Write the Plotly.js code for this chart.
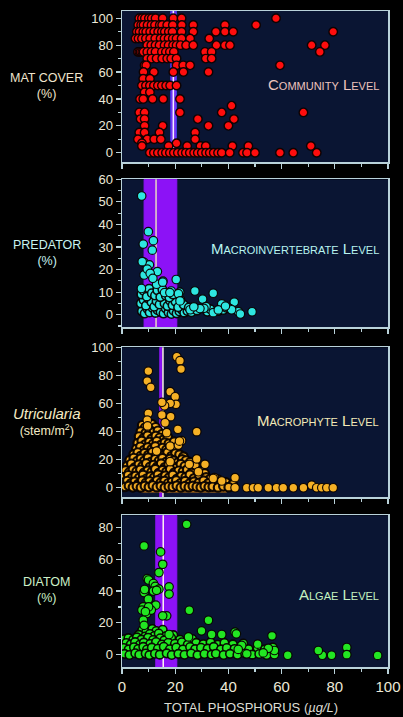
<!DOCTYPE html>
<html>
<head>
<meta charset="utf-8">
<script src="https://cdn.plot.ly/plotly-3.0.1.min.js"></script>
<style>html,body{margin:0;padding:0;background:#000;}#chart{width:403px;height:717px;}</style>
</head>
<body>
<div id="chart"></div>
<script>
// ---------- DATA ----------
const xTickVals = [0, 20, 40, 60, 80, 100];

// Panel 1: mat cover (%) rows -> total phosphorus values in each row
const matLevels = [100, 95, 90, 85, 80, 75, 70, 65, 60, 55, 50, 45, 40, 35, 30, 25, 20, 15, 10, 7, 5, 0];
const matRowX = [
  [6.5, 7.5, 8.6, 10.1, 11.2, 12.6, 15.3, 19.3, 22.4, 57.9],
  [6.1, 7.2, 8.1, 9.6, 11.1, 12.4, 14.2, 15.1, 17.0, 19.1, 22.5, 26.8, 38.7, 50.4],
  [5.6, 6.6, 8.0, 9.1, 10.6, 12.1, 13.6, 15.0, 16.1, 17.6, 19.0, 22.4, 26.8, 35.3, 38.7, 41.8, 79.4],
  [5.1, 6.2, 7.5, 9.0, 10.6, 12.5, 14.5, 16.0, 17.5, 19.1, 20.5, 22.4, 25.6, 32.8],
  [9.5, 11.0, 12.6, 14.1, 16.0, 17.5, 19.2, 20.5, 22.0, 24.1, 26.8, 35.5, 38.7, 40.6, 71.3, 76.3],
  [6.0, 6.5, 7.0, 7.6, 8.1, 9.5, 11.1, 12.6, 15.0, 16.5, 18.0, 19.5, 31.2, 33.7, 74.4],
  [9.5, 11.1, 13.0, 15.1, 17.0, 18.5, 20.5, 31.5, 33.7],
  [8.5, 9.1, 20.5, 23.0, 25.6, 59.4],
  [8.1, 12.0, 19.3, 23.1, 32.5],
  [8.0, 10.5],
  [7.5, 9.0, 10.5, 12.0, 13.5, 15.0, 16.6, 18.1, 20.5],
  [8.5, 10.5],
  [6.8, 8.0, 11.5, 15.5, 21.8],
  [41.2],
  [6.5, 8.5, 21.8, 37.5, 68.2],
  [7.0, 8.5, 28.5, 42.1],
  [8.5, 15.3, 32.5, 40.0],
  [6.5, 8.5, 14.1, 27.5],
  [6.0, 9.5, 12.1, 14.6, 27.5],
  [7.5, 20.5],
  [7.5, 17.5, 24.5, 29.5, 31.5, 41.5, 47.5, 71.0],
  [10.5, 12.0, 13.5, 15.1, 16.5, 18.0, 19.5, 21.0, 22.6, 24.0, 25.5, 27.1, 28.5, 30.0, 31.6, 33.0, 34.5, 36.1, 37.5, 40.5, 45.5, 47.0, 50.0, 59.4, 64.4, 73.2]
];

// Panel 2: predator (%)
const predOutX = [7.4, 9.9, 11.8, 8.0, 11.4, 8.3, 10.3, 7.6, 13.3, 8.3, 15.4, 20.4, 13.0, 27.4, 34.3, 16.0, 21.7, 18.5, 22.0, 30.3, 7.3, 31.6, 37.5, 42.2, 40.6, 43.7, 48.9, 44.5, 41.2, 34.3, 30.8, 25.6, 29.3, 27.0, 9.5, 10.6, 11.6, 21.2, 21.8, 18.0, 15.3, 36.2, 38.9];
const predOutY = [52.6, 36.8, 32.8, 31.3, 28.6, 23.2, 22.1, 23.5, 19.1, 17.6, 14.9, 15.6, 13.5, 10.5, 9.5, 9.8, 10.0, 10.5, 6.5, 6.9, 11.6, 3.6, 4.8, 5.6, 2.7, 1.4, 1.3, 0.3, 2.2, 0.9, 2.8, 2.2, 2.7, 3.5, 20.2, 18.3, 16.1, 9.3, 6.1, 9.8, 14.4, 2.1, 3.8];
const predClusX = [7.5, 8.5, 9.6, 10.4, 11.5, 12.6, 13.4, 14.5, 15.6, 16.4, 17.5, 18.6, 19.4, 20.5, 21.6, 22.5, 23.4, 24.6, 26.1, 28.2, 32.1, 33.2, 36.3, 38.1, 39.2,
  7.1, 8.1, 9.0, 10.1, 11.1, 12.1, 13.0, 14.1, 15.1, 16.0, 17.1, 18.1, 19.0, 20.1, 21.1, 23.2, 25.1,
  7.3, 8.2, 9.3, 10.2, 11.2, 12.4, 13.3, 14.4, 15.2, 16.5, 17.8, 19.2];
const predClusY = [1.5, 0.5, 2.5, 1.0, 3.0, 0.8, 2.0, 1.2, 0.5, 2.8, 1.0, 0.3, 1.8, 0.6, 1.4, 2.2, 0.9, 1.6, 1.1, 1.9, 1.3, 2.4, 1.7, 2.1, 3.1,
  5.0, 6.5, 4.0, 7.0, 5.5, 3.5, 6.0, 4.5, 7.5, 5.0, 3.8, 6.2, 4.2, 5.8, 3.3, 4.4, 3.2,
  9.0, 10.5, 8.0, 11.5, 9.5, 8.5, 10.8, 7.8, 11.2, 8.4, 7.6, 8.9];

// Panel 3: Utricularia (stem/m2)
const utrOutX = [20.6, 21.8, 22.2, 9.9, 9.5, 10.8, 18.1, 20.0, 20.3, 18.1, 16.0, 15.0, 18.3, 15.0, 9.9, 9.5, 16.2, 9.6, 16.8, 21.0, 28.1, 22.4, 18.1, 21.2, 13.0, 28.1, 31.2, 25.3, 18.1, 28.7, 34.7, 37.5, 42.5, 42.5, 46.9, 49.4, 51.2, 55.0, 58.1, 60.6, 64.4, 68.2, 71.3, 73.2, 75.1, 77.0, 79.4, 34.3, 21.6];
const utrOutY = [93.3, 90.5, 84.5, 83.1, 76.0, 71.5, 68.4, 64.8, 59.4, 60.1, 58.4, 60.8, 50.6, 51.8, 53.0, 48.2, 46.3, 44.0, 39.2, 41.6, 39.9, 33.5, 29.7, 30.4, 26.1, 20.5, 16.7, 16.7, 18.6, 11.4, 7.2, 4.8, 7.2, 0.0, 0.0, 0.0, 0.0, 0.0, 0.0, 0.0, 0.0, 0.0, 1.8, 0.0, 0.0, 0.0, 0.0, 6.6, 33.2];
const utrClusX = [7.6, 8.7, 11.2, 12.6,
  7.1, 8.9, 10.4, 11.9, 13.5, 15.1,
  6.4, 8.1, 9.6, 11.1, 12.7, 14.2, 15.6, 17.2,
  5.9, 7.4, 8.8, 10.3, 11.7, 13.1, 14.6, 16.1, 17.6, 19.6,
  5.4, 6.9, 8.3, 9.7, 11.1, 12.5, 13.9, 15.3, 16.7, 18.1, 19.9,
  4.4, 5.9, 7.1, 8.5, 9.9, 11.4, 12.8, 14.2, 15.7, 17.1, 18.6, 20.1, 21.6, 23.1,
  2.9, 4.4, 5.7, 7.1, 8.4, 9.8, 11.1, 12.5, 13.9, 15.2, 16.6, 18.1, 19.5, 21.1, 22.6, 24.1, 25.6,
  1.9, 3.5, 4.9, 6.3, 7.7, 9.1, 10.5, 11.9, 13.3, 14.7, 16.1, 17.5, 18.9, 20.5, 22.1, 23.6, 26.1, 27.6,
  1.3, 2.7, 4.1, 5.5, 6.9, 8.3, 9.7, 11.1, 12.5, 13.9, 15.3, 16.7, 18.1, 19.7, 21.3, 22.9, 24.5, 26.1, 29.6, 31.1,
  0.8, 2.3, 3.7, 5.1, 6.5, 7.9, 9.3, 10.7, 12.1, 13.5, 14.9, 16.3, 17.7, 19.1, 20.7, 22.3, 23.9, 25.5, 27.1, 29.1, 31.6, 33.1, 36.1,
  0.6, 2.0, 3.4, 4.8, 6.2, 7.6, 9.0, 10.4, 11.8, 13.2, 14.6, 16.0, 17.4, 18.8, 20.4, 22.1, 23.7, 25.3, 27.1, 28.9, 30.7, 32.5, 34.6, 36.9, 39.1, 41.6,
  1.1, 2.6, 4.1, 5.6, 7.1, 8.6, 10.1, 11.6, 13.1, 14.6, 16.1, 17.6, 19.1, 20.6, 22.1, 23.6, 25.1, 26.6, 28.1, 29.6, 31.1, 32.6, 34.1, 36.1, 38.1, 40.1];
const utrClusY = [44.5, 42.8, 45.3, 43.1,
  40.2, 38.9, 41.1, 39.4, 40.6, 38.2,
  36.5, 35.2, 37.1, 34.8, 36.9, 35.6, 34.3, 36.1,
  31.8, 33.4, 30.9, 32.6, 31.2, 33.1, 30.5, 32.2, 31.4, 32.9,
  27.6, 29.2, 26.8, 28.7, 27.3, 29.5, 26.4, 28.3, 27.1, 28.9, 26.6,
  23.8, 25.1, 22.7, 24.6, 23.3, 25.4, 22.9, 24.2, 23.1, 25.2, 22.5, 24.4, 23.6, 22.2,
  19.6, 21.2, 18.9, 20.7, 19.2, 21.4, 18.6, 20.3, 19.1, 21.1, 18.4, 20.6, 19.3, 18.1, 20.2, 19.4, 18.2,
  15.4, 17.1, 14.6, 16.5, 15.2, 17.3, 14.8, 16.2, 15.1, 17.2, 14.5, 16.4, 15.6, 14.2, 16.8, 15.3, 14.1, 15.9,
  12.4, 10.9, 13.1, 11.6, 12.8, 10.7, 12.2, 11.1, 13.3, 10.6, 12.6, 11.3, 13.2, 10.8, 12.1, 11.4, 12.9, 10.5, 11.8, 10.2,
  7.6, 8.9, 6.8, 8.4, 7.1, 9.2, 6.6, 8.1, 7.3, 9.4, 6.9, 8.6, 7.2, 9.1, 6.4, 8.3, 7.5, 9.3, 6.7, 8.2, 7.4, 6.2, 5.8,
  3.6, 4.8, 3.1, 4.4, 2.8, 5.1, 3.4, 4.6, 2.9, 5.3, 3.7, 4.9, 3.2, 4.1, 5.2, 3.3, 4.7, 2.9, 4.3, 3.5, 5.1, 3.1, 4.4, 2.7, 3.8, 2.4,
  0.6, 1.4, 0.3, 1.1, 0.2, 1.3, 0.5, 1.6, 0.4, 1.2, 0.1, 0.9, 0.6, 1.5, 0.2, 1.1, 0.4, 1.3, 0.7, 0.3, 1.2, 0.5, 0.8, 0.2, 1.0, 0.4];
const utrBaseX = [7.3, 39.4];
const utrBaseY = [-2.8, -2.8];

// Panel 4: diatom (%)
const diaOutX = [24.3, 8.3, 14.5, 15.3, 13.9, 9.5, 10.0, 11.8, 12.5, 13.9, 17.7, 17.7, 8.3, 8.5, 9.9, 12.7, 25.3, 16.8, 15.3, 32.5, 8.0, 7.5, 9.3, 8.0, 8.3, 29.9, 33.7, 37.5, 42.5, 43.0, 17.7, 25.0, 56.4, 51.0, 45.0, 96.1, 84.5, 84.5, 78.8, 75.3, 73.8, 62.3, 57.3, 57.3, 55.0, 53.1, 46.9, 43.7, 11.0, 10.0, 8.8, 11.8, 13.0];
const diaOutY = [82.1, 68.5, 64.7, 56.9, 51.7, 47.9, 47.0, 44.8, 43.0, 41.2, 42.7, 38.1, 39.1, 41.0, 34.9, 31.1, 27.9, 24.4, 24.4, 21.6, 30.0, 28.0, 25.8, 21.6, 18.4, 14.9, 12.6, 12.6, 14.1, 13.0, 12.6, 11.1, 11.8, 6.5, 5.7, -0.6, 4.4, -0.1, -0.5, -0.5, 2.5, -0.5, 0.0, 2.5, 3.9, 1.0, 0.4, 3.2, 28.0, 30.0, 27.0, 40.0, 40.5];
const diaClusX = [7.6, 9.1, 11.4, 12.9, 15.3,
  6.3, 8.7, 10.5, 12.2, 13.8, 16.6, 19.3,
  0.8, 2.4, 4.2, 5.6, 7.3, 9.8, 11.7, 14.4, 15.9, 18.5, 21.8, 26.4,
  1.6, 3.3, 4.9, 6.7, 8.2, 10.6, 12.8, 15.0, 17.4, 19.9, 22.5, 24.7, 27.9, 30.6, 33.3, 36.0, 38.5, 41.7, 45.6,
  0.6, 2.5, 4.5, 6.1, 8.0, 9.4, 11.2, 13.5, 15.7, 18.0, 20.4, 22.9, 25.6, 27.5, 29.7, 32.2, 34.5, 37.2, 39.4, 42.3, 44.8, 47.6, 50.9, 53.7, 56.7,
  0.9, 2.8, 5.0, 6.5, 8.9, 10.3, 12.4, 14.2, 16.8, 18.7, 21.2, 23.5, 26.0, 28.4, 31.0, 33.7, 35.3, 38.2, 40.6, 43.4, 46.3, 49.0, 51.6, 54.4];
const diaClusY = [15.3, 14.2, 16.1, 14.8, 15.6,
  12.4, 11.3, 12.9, 11.7, 13.2, 11.6, 12.2,
  9.6, 10.3, 9.2, 10.8, 9.4, 10.6, 9.1, 10.2, 8.9, 10.4, 9.3, 9.8,
  7.2, 6.4, 7.8, 6.1, 7.5, 6.6, 7.9, 6.3, 7.4, 6.8, 7.7, 6.2, 7.3, 6.5, 7.6, 6.1, 7.2, 6.4, 6.9,
  4.1, 3.2, 4.6, 3.5, 4.8, 3.1, 4.3, 3.6, 4.9, 3.3, 4.4, 3.1, 4.7, 3.4, 4.2, 3.7, 4.8, 3.2, 4.1, 3.5, 4.6, 3.3, 4.2, 3.1, 4.4,
  0.4, -0.3, 0.8, -0.2, 0.6, -0.4, 0.5, -0.1, 0.7, -0.3, 0.4, -0.2, 0.6, -0.4, 0.3, -0.1, 0.5, -0.3, 0.4, -0.2, 0.6, -0.1, 0.3, -0.3];

// Reference bands (total phosphorus) per panel
const bandLow = [18.3, 8.3, 14.2, 12.7];
const bandHigh = [20.5, 20.6, 15.0, 20.6];
const refLine = [19.3, 12.8, 15.4, 15.5];

// ---------- BUILD ----------
const matX = [], matY = [];
matRowX.forEach((row, i) => row.forEach(v => { matX.push(v); matY.push(matLevels[i]); }));

const FONT = 'Liberation Sans, Arial, Helvetica, sans-serif';
function pts(x, y, xa, ya, col, lw) {
  return {type: 'scatter', mode: 'markers', x: x, y: y, xaxis: xa, yaxis: ya,
    marker: {size: 8.5, color: col, line: {color: 'rgba(8,2,0,0.95)', width: lw}}, hoverinfo: 'skip'};
}
const data = [
  pts(matX, matY, 'x', 'y', '#ff0d0d', 1.4),
  pts(predClusX, predClusY, 'x2', 'y2', '#2ee6e0', 1.6),
  pts(predOutX, predOutY, 'x2', 'y2', '#2ee6e0', 1.2),
  {type: 'scatter', mode: 'lines', x: utrBaseX, y: utrBaseY, xaxis: 'x3', yaxis: 'y3',
    line: {color: '#c87810', width: 1.5}, hoverinfo: 'skip'},
  pts(utrClusX, utrClusY, 'x3', 'y3', '#f2aa22', 2.2),
  pts(utrOutX, utrOutY, 'x3', 'y3', '#f5b025', 1.2),
  pts(diaClusX, diaClusY, 'x4', 'y4', '#22e622', 1.6),
  pts(diaOutX, diaOutY, 'x4', 'y4', '#22e622', 1.2)
];

const LINE = '#b9d2da';
const TICKFONT = {family: FONT, size: 13, color: '#ece8d8'};
function xax(anchor, labels) {
  return {range: [0, 100], anchor: anchor, showline: true, mirror: true, linecolor: LINE, linewidth: 1.5,
    ticks: 'outside', ticklen: 5, tickwidth: 1.2, tickcolor: LINE, tickvals: xTickVals,
    showticklabels: labels, tickfont: {family: FONT, size: 15, color: '#ece8d8'},
    minor: {dtick: 10, tick0: 0, ticks: 'outside', ticklen: 3, tickcolor: LINE, tickwidth: 1.2, showgrid: false},
    showgrid: false, zeroline: false, fixedrange: true};
}
function yax(domain, range, dtick, minor, anchor) {
  return {domain: domain, range: range, anchor: anchor, showline: true, mirror: true, linecolor: LINE, linewidth: 1.5,
    ticks: 'outside', ticklen: 5, tickwidth: 1.2, tickcolor: LINE, dtick: dtick, tick0: 0,
    tickfont: TICKFONT, minor: {dtick: minor, tick0: 0, ticks: 'outside', ticklen: 2.5, tickcolor: LINE, tickwidth: 1.2, showgrid: false},
    showgrid: false, zeroline: false, fixedrange: true};
}

const shapes = [];
const xrefs = ['x', 'x2', 'x3', 'x4'];
const bandFill = ['#7434f2', '#8c12f6', '#8c12f6', '#8c12f6'];
const bandEdge = ['#3a3ae6', '#8c12f6', '#8c12f6', '#8c12f6'];
const lineCol = ['#f4f0ff', '#e8d8c4', '#fff4f0', '#fff4ee'];
for (let i = 0; i < 4; i++) {
  const yr = (i === 0 ? 'y' : 'y' + (i + 1));
  const full = i !== 0;
  shapes.push({type: 'rect', layer: 'below', xref: xrefs[i], yref: full ? yr + ' domain' : yr,
    x0: bandLow[i], x1: bandHigh[i], y0: full ? 0 : -1.5, y1: full ? 1 : 105.4,
    fillcolor: bandFill[i], line: {color: bandEdge[i], width: 1}});
  shapes.push({type: 'line', layer: 'below', xref: xrefs[i], yref: full ? yr + ' domain' : yr,
    x0: refLine[i], x1: refLine[i], y0: full ? 0 : -1.5, y1: full ? 1 : 105.4,
    line: {color: lineCol[i], width: 1.5}});
}

function levelNote(text, yref, y, col) {
  return {text: text, xref: 'paper', x: 0.974, xanchor: 'right', yref: yref, y: y, yanchor: 'middle',
    showarrow: false, font: {family: FONT, size: 15, color: col, variant: 'small-caps'}};
}
function yTitle(text, yref, col) {
  return {text: text, xref: 'paper', x: -0.282, xanchor: 'center', yref: yref, y: 0.505, yanchor: 'middle',
    showarrow: false, align: 'center', font: {family: FONT, size: 12.5, color: col}};
}
const annotations = [
  levelNote('Community Level', 'y domain', 0.512, '#eec4be'),
  levelNote('Macroinvertebrate Level', 'y2 domain', 0.534, '#b8f4f0'),
  levelNote('Macrophyte Level', 'y3 domain', 0.515, '#f4eab8'),
  levelNote('Algae Level', 'y4 domain', 0.48, '#c4f2c0'),
  yTitle('MAT COVER<br>(%)', 'y domain', '#f0e4cc'),
  yTitle('PREDATOR<br>(%)', 'y2 domain', '#c8f2f0'),
  yTitle('<span style="font-size:15px"><i>Utricularia</i></span><br>(stem/m<sup>2</sup>)', 'y3 domain', '#f4eac4'),
  yTitle('DIATOM<br>(%)', 'y4 domain', '#cdf0c8'),
  {text: 'TOTAL PHOSPHORUS (<i>µg/L</i>)', xref: 'paper', x: 0.485, xanchor: 'center', yref: 'paper', y: -0.061,
    yanchor: 'middle', showarrow: false, font: {family: FONT, size: 13, color: '#dcdcd4'}}
];

const layout = {
  width: 403, height: 717, autosize: false,
  paper_bgcolor: '#000000', plot_bgcolor: '#0a1533',
  margin: {l: 122, r: 15, t: 11, b: 50},
  showlegend: false,
  font: {family: FONT, color: '#ece8d8'},
  xaxis: xax('y', false), xaxis2: xax('y2', false), xaxis3: xax('y3', false), xaxis4: xax('y4', true),
  yaxis: yax([0.7698, 1], [-6.9, 105.4], 20, 10, 'x'),
  yaxis2: yax([0.5178, 0.7434], [-5.6, 60], 10, 5, 'x2'),
  yaxis3: yax([0.2587, 0.4873], [-6.8, 100], 20, 10, 'x3'),
  yaxis4: yax([0, 0.2312], [-7.9, 87.8], 20, 10, 'x4'),
  shapes: shapes, annotations: annotations
};
Plotly.newPlot('chart', data, layout, {displayModeBar: false, staticPlot: true});
</script>
</body>
</html>
